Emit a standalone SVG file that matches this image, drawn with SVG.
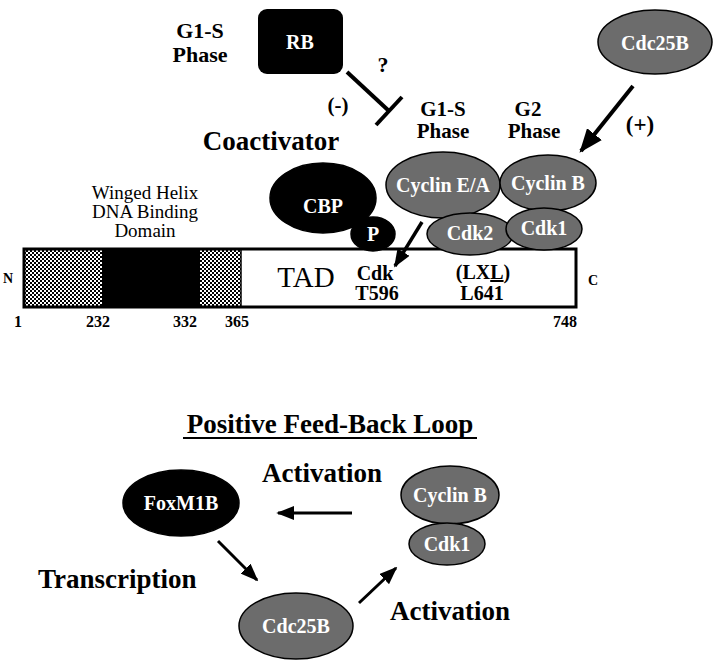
<svg xmlns="http://www.w3.org/2000/svg" width="715" height="668" viewBox="0 0 715 668">
<defs>
<style>
.t{font-family:"Liberation Serif","Times New Roman",serif;font-weight:bold;fill:#000}
.w{font-family:"Liberation Serif","Times New Roman",serif;font-weight:bold;fill:#fff;text-anchor:middle;font-size:20px}
.r{font-family:"Liberation Serif","Times New Roman",serif;font-weight:normal;fill:#000}
.m{text-anchor:middle}
.g{fill:#6c6c6c;stroke:#000;stroke-width:1.5}
.b{fill:#000;stroke:#000;stroke-width:1.5}
.ln{stroke:#000;fill:none}
</style>
<pattern id="dots" width="4" height="4" patternUnits="userSpaceOnUse">
<rect width="4" height="4" fill="#fff"/>
<rect x="0" y="0" width="2" height="2" fill="#000"/>
<rect x="2" y="2" width="2" height="2" fill="#000"/>
</pattern>
<marker id="big" viewBox="0 0 10 10" refX="9" refY="5" markerUnits="userSpaceOnUse" markerWidth="24" markerHeight="19" orient="auto" preserveAspectRatio="none">
<path d="M0,0 L10,5 L0,10 z" fill="#000"/>
</marker>
<marker id="med" viewBox="0 0 10 10" refX="9" refY="5" markerUnits="userSpaceOnUse" markerWidth="18" markerHeight="14" orient="auto" preserveAspectRatio="none">
<path d="M0,0 L10,5 L0,10 z" fill="#000"/>
</marker>
</defs>
<rect width="715" height="668" fill="#fff"/>

<g id="labels-top">
<text class="t m" x="200" y="38" font-size="22">G1-S</text>
<text class="t m" x="200" y="62" font-size="22">Phase</text>
<text class="t m" x="383" y="72" font-size="22">?</text>
<text class="t m" x="338" y="112" font-size="21">(-)</text>
<text class="t m" x="271" y="150" font-size="27">Coactivator</text>
<text class="t m" x="443" y="116" font-size="21">G1-S</text>
<text class="t m" x="443" y="138" font-size="21">Phase</text>
<text class="t m" x="528" y="116" font-size="21">G2</text>
<text class="t m" x="534" y="138" font-size="21">Phase</text>
<text class="t m" x="640" y="132" font-size="23">(+)</text>
<text class="r m" x="145" y="199" font-size="19">Winged Helix</text>
<text class="r m" x="145" y="218" font-size="19">DNA Binding</text>
<text class="r m" x="145" y="237" font-size="19">Domain</text>
</g>

<g id="protein-box">
<rect x="24" y="249" width="78" height="58" fill="url(#dots)"/>
<rect x="102" y="249" width="98" height="58" fill="#000"/>
<rect x="200" y="249" width="41" height="58" fill="url(#dots)"/>
<rect x="241" y="249" width="335" height="58" fill="#fff"/>
<rect x="24" y="249" width="552" height="58" fill="none" stroke="#000" stroke-width="3"/>
<line x1="241" y1="249" x2="241" y2="307" stroke="#000" stroke-width="1.5"/>
<text class="r m" x="306" y="287" font-size="29">TAD</text>
<text class="t m" x="375" y="280" font-size="20">Cdk</text>
<text class="t m" x="377" y="300" font-size="20">T596</text>
<text class="t m" x="483" y="279" font-size="20">(LX<tspan text-decoration="underline">L</tspan>)</text>
<text class="t m" x="482" y="300" font-size="20">L641</text>
<text class="t m" x="8" y="283" font-size="14">N</text>
<text class="t m" x="593" y="285" font-size="14">C</text>
<text class="t m" x="18" y="327" font-size="16">1</text>
<text class="t m" x="98" y="327" font-size="16">232</text>
<text class="t m" x="185" y="327" font-size="16">332</text>
<text class="t m" x="237" y="327" font-size="16">365</text>
<text class="t m" x="565" y="327" font-size="16">748</text>
</g>

<g id="RB">
<rect x="258" y="9" width="85" height="65" rx="9" fill="#000"/>
<text class="w" x="300" y="49">RB</text>
</g>
<g id="Cdc25B-top">
<ellipse class="g" cx="655" cy="42" rx="57" ry="32"/>
<text class="w" x="655" y="50">Cdc25B</text>
</g>
<g id="CyclinEA">
<ellipse class="g" cx="443" cy="185" rx="57" ry="33"/>
<text class="w" x="443" y="192">Cyclin E/A</text>
</g>
<g id="CyclinB-top">
<ellipse class="g" cx="548" cy="183" rx="48" ry="28"/>
<text class="w" x="548" y="190">Cyclin B</text>
</g>
<g id="Cdk2">
<ellipse class="g" cx="470" cy="234" rx="43" ry="21"/>
<text class="w" x="470" y="240" font-size="21">Cdk2</text>
</g>
<g id="Cdk1-top">
<ellipse class="g" cx="544" cy="229" rx="38" ry="21"/>
<text class="w" x="544" y="235" font-size="21">Cdk1</text>
</g>
<g id="CBP">
<ellipse class="b" cx="323" cy="198" rx="53" ry="35"/>
<text class="w" x="323" y="213">CBP</text>
</g>
<g id="P">
<ellipse class="b" cx="373" cy="234" rx="22" ry="17"/>
<text class="w" x="373" y="241" font-size="19">P</text>
</g>

<g id="labels-bottom">
<text class="t m" x="330" y="433" font-size="27">Positive Feed-Back Loop</text>
<line x1="183" y1="438" x2="477" y2="438" stroke="#000" stroke-width="2"/>
<text class="t m" x="322" y="482" font-size="27">Activation</text>
<text class="t" x="38" y="588" font-size="27">Transcription</text>
<text class="t m" x="450" y="620" font-size="27">Activation</text>
</g>

<g id="FoxM1B">
<ellipse class="b" cx="181" cy="503" rx="58" ry="33"/>
<text class="w" x="181" y="510">FoxM1B</text>
</g>
<g id="CyclinB-bottom">
<ellipse class="g" cx="450" cy="495" rx="49" ry="29"/>
<text class="w" x="450" y="502">Cyclin B</text>
</g>
<g id="Cdk1-bottom">
<ellipse class="g" cx="447" cy="544" rx="38" ry="21"/>
<text class="w" x="447" y="551">Cdk1</text>
</g>
<g id="Cdc25B-bottom">
<ellipse class="g" cx="296" cy="626" rx="57" ry="33"/>
<text class="w" x="296" y="633">Cdc25B</text>
</g>

<g id="connectors">
<line class="ln" x1="347" y1="72" x2="389" y2="111" stroke-width="4"/>
<line class="ln" x1="376" y1="125" x2="402" y2="97" stroke-width="4"/>
<line class="ln" x1="633" y1="86" x2="581" y2="151" stroke-width="4" marker-end="url(#big)"/>
<line class="ln" x1="422" y1="222" x2="395" y2="266" stroke-width="3.5" marker-end="url(#med)"/>
<line class="ln" x1="352" y1="513" x2="278" y2="513" stroke-width="3" marker-end="url(#med)"/>
<line class="ln" x1="218" y1="541" x2="257" y2="580" stroke-width="3" marker-end="url(#med)"/>
<line class="ln" x1="359" y1="603" x2="396" y2="568" stroke-width="3" marker-end="url(#med)"/>
</g>
</svg>
